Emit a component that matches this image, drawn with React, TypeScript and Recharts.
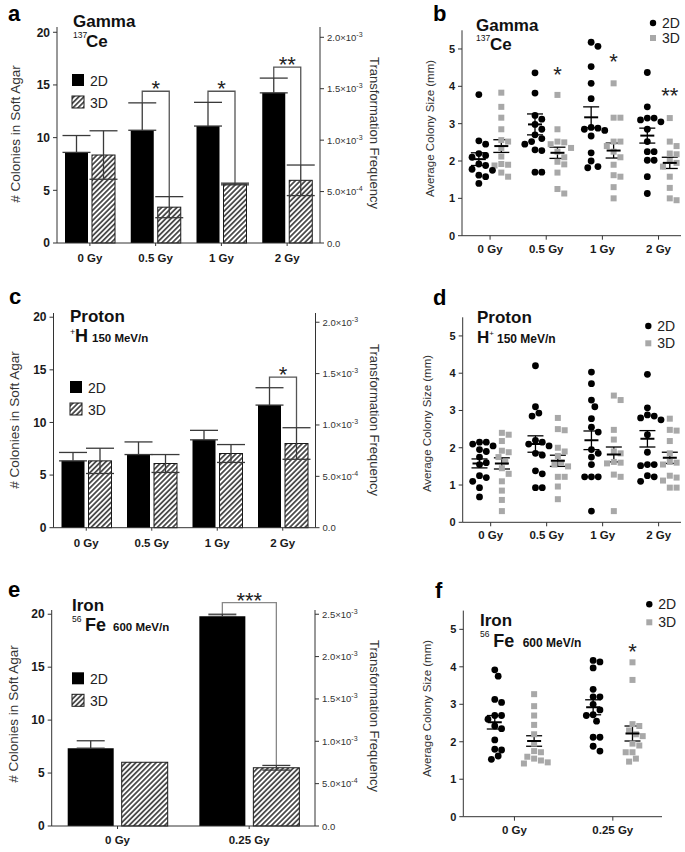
import React from 'react';
import { BarChart, Bar, XAxis, YAxis, ErrorBar, ScatterChart, Scatter } from 'recharts';

const FONT = '"Liberation Sans", Arial, Helvetica, sans-serif';

// a: gamma, colonies in soft agar
const gammaDoses = ['0 Gy', '0.5 Gy', '1 Gy', '2 Gy'];
const gamma2D = [8.6, 10.7, 11.1, 14.25];
const gamma2DErr = [1.6, 2.6, 2.25, 1.4];
const gamma3D = [8.35, 3.4, 5.6, 5.95];
const gamma3DErr = [2.3, 1.0, 0.08, 1.45];
const gammaBracket = [null, 14.4, 14.4, 16.7];
const gammaSig = ['', '*', '*', '**'];

// c: proton
const protonDoses = ['0 Gy', '0.5 Gy', '1 Gy', '2 Gy'];
const proton2D = [6.35, 6.95, 8.35, 11.65];
const proton2DErr = [0.8, 1.2, 0.9, 1.65];
const proton3D = [6.35, 6.1, 7.05, 8.0];
const proton3DErr = [1.2, 0.85, 0.85, 1.5];
const protonBracket = [null, null, null, 14.3];
const protonSig = ['', '', '', '*'];

// e: iron
const ironDoses = ['0 Gy', '0.25 Gy'];
const iron2D = [7.35, 19.8];
const iron2DErr = [0.7, 0.2];
const iron3D = [6.02, 5.5];
const iron3DErr = [0, 0.22];
const ironBracket = [null, 21.1];
const ironSig = ['', '***'];

const colonyTicks = [0, 5, 10, 15, 20];
const freqTicks = [0, 0.0005, 0.001, 0.0015, 0.002];
const freqTicksIron = [0, 0.0005, 0.001, 0.0015, 0.002, 0.0025];
const sizeTicks = [0, 1, 2, 3, 4, 5];

// b: gamma colony size
const gammaSize2D = [
  [3.78, 2.54, 2.45, 2.2, 2.15, 2.1, 1.92, 1.88, 1.78, 1.75, 1.62, 1.58, 1.4],
  [4.36, 3.82, 3.22, 3.12, 2.98, 2.85, 2.7, 2.6, 2.52, 2.45, 2.3, 2.28, 1.7, 1.7],
  [5.18, 5.07, 4.53, 4.08, 3.67, 2.9, 2.88, 2.85, 2.82, 2.67, 2.22, 2.0, 1.85, 1.82],
  [4.37, 3.45, 3.15, 3.15, 3.1, 3.05, 2.85, 2.52, 2.25, 2.25, 2.02, 2.02, 1.58, 1.13],
];
const gammaSize3D = [
  [3.83, 3.45, 3.16, 2.85, 2.56, 2.52, 2.35, 2.12, 1.92, 1.9, 1.88, 1.69, 1.58],
  [3.77, 2.85, 2.52, 2.5, 2.45, 2.35, 2.25, 2.1, 1.98, 1.91, 1.69, 1.25, 1.13],
  [4.08, 3.16, 3.16, 2.52, 2.52, 2.4, 2.25, 2.1, 1.9, 1.62, 1.58, 1.3, 1.0],
  [3.15, 2.52, 2.4, 2.2, 2.18, 2.0, 1.95, 1.85, 1.58, 1.28, 0.95, 1.0],
];
const gammaMean2D = [2.05, 2.98, 3.17, 2.68];
const gammaSem2D = [0.17, 0.28, 0.28, 0.2];
const gammaMean3D = [2.4, 2.22, 2.28, 1.95];
const gammaSem3D = [0.17, 0.15, 0.2, 0.15];
const gammaSizeSig = ['', '*', '*', '**'];
const gammaSizeSigAt = [null, 4.45, 4.78, 3.88];

// d: proton colony size
const protonSize2D = [
  [2.15, 2.15, 2.1, 2.05, 1.95, 1.9, 1.75, 1.6, 1.55, 1.25, 1.2, 1.1, 0.93, 0.68],
  [4.2, 3.1, 2.93, 2.85, 2.2, 2.15, 2.1, 2.05, 1.85, 1.8, 1.38, 1.3, 0.93, 0.93],
  [4.03, 3.72, 3.28, 3.1, 2.78, 2.55, 2.42, 1.95, 1.85, 1.75, 1.55, 1.22, 1.22, 1.22, 0.3],
  [3.97, 3.07, 2.88, 2.85, 2.8, 2.75, 2.35, 1.88, 1.55, 1.55, 1.52, 1.25, 1.22, 1.1],
];
const protonSize3D = [
  [2.4, 2.35, 2.18, 1.92, 1.88, 1.75, 1.62, 1.45, 1.3, 1.1, 0.85, 0.6, 0.3],
  [2.8, 2.5, 2.47, 2.0, 1.9, 1.78, 1.6, 1.55, 1.5, 1.22, 1.22, 0.96, 0.62],
  [3.4, 3.28, 2.48, 2.22, 1.9, 1.85, 1.62, 1.6, 1.58, 1.28, 1.22, 0.3],
  [2.78, 2.48, 2.46, 2.18, 1.85, 1.62, 1.6, 1.55, 1.25, 1.2, 1.12, 0.93, 0.93],
];
const protonMean2D = [1.58, 2.1, 2.2, 2.24];
const protonSem2D = [0.12, 0.22, 0.25, 0.22];
const protonMean3D = [1.58, 1.65, 1.82, 1.73];
const protonSem3D = [0.15, 0.15, 0.2, 0.15];
const protonSizeSig = ['', '', '', ''];
const protonSizeSigAt = [null, null, null, null];

// f: iron colony size
const ironSize2D = [
  [3.92, 3.75, 3.13, 3.05, 2.7, 2.7, 2.6, 2.42, 2.35, 2.05, 1.8, 1.78, 1.62, 1.53],
  [4.17, 4.13, 3.97, 3.4, 3.2, 3.2, 3.0, 2.85, 2.72, 2.7, 2.55, 2.12, 2.12, 1.88, 1.75],
];
const ironSize3D = [
  [3.27, 2.95, 2.7, 2.45, 2.2, 1.95, 1.75, 1.72, 1.6, 1.55, 1.5, 1.45, 1.42],
  [4.12, 3.65, 2.47, 2.42, 2.3, 2.2, 2.15, 1.95, 1.9, 1.72, 1.72, 1.55, 1.47],
];
const ironMean2D = [2.52, 2.92];
const ironSem2D = [0.18, 0.2];
const ironMean3D = [2.02, 2.22];
const ironSem3D = [0.14, 0.2];
const ironSizeSig = ['', '*'];
const ironSizeSigAt = [null, 4.54];

const axisLine = { stroke: '#333', strokeWidth: 1 };
const boldTick = { fontSize: 11.5, fontWeight: 'bold' as const, fill: '#1a1a1a' };

type Box = { l: number; r: number; t: number; b: number };

function freqParts(v: number): [string, string | null] {
  if (v === 0) return ['0.0', null];
  const e = Math.floor(Math.log10(v) + 1e-9);
  return [`${(v / 10 ** e).toFixed(1)}×10`, `${e}`];
}

const FreqTick = (props: any) => {
  const { x, y, payload } = props;
  const [m, e] = freqParts(payload.value);
  return (
    <text x={x} y={y} dy={3.5} fontSize={9.5} fill="#333" textAnchor="start">
      {m}
      {e && <tspan dy={-4} fontSize={7}>{e}</tspan>}
    </text>
  );
};

// hatched 3D bar; also draws the significance bracket, scaled off the bar itself
const HatchBar = (props: any) => {
  const { x, y, width, height, payload, patternId, gap, bracketColor } = props;
  const k = payload.v3 ? height / payload.v3 : 0;
  const base = y + height;
  const toY = (v: number) => base - v * k;
  const lx = x - gap - width / 2;
  const rx = x + width / 2;
  return (
    <g>
      <rect x={x} y={y} width={width} height={height} fill={`url(#${patternId})`} stroke="#1a1a1a" strokeWidth={1} />
      {payload.bracket != null && (
        <g>
          <path
            d={`M${lx},${toY(payload.v2 + payload.e2)}V${toY(payload.bracket)}H${rx}V${toY(payload.v3 + payload.e3)}`}
            fill="none"
            stroke={bracketColor}
            strokeWidth={1.3}
          />
          <text x={(lx + rx) / 2} y={toY(payload.bracket) + 5} textAnchor="middle" fontSize={22} fill="#222">
            {payload.sig}
          </text>
        </g>
      )}
    </g>
  );
};

type BarPanelProps = {
  id: string;
  top: number;
  height: number;
  plot: Box;
  doses: string[];
  v2: number[];
  e2: number[];
  v3: number[];
  e3: number[];
  bracket: (number | null)[];
  sig: string[];
  bracketColor: string;
  yMax: number;
  freqMax: number;
  fTicks: number[];
  barSize: number;
  barGap: number;
  labelGap: number;
};

function BarPanel(p: BarPanelProps) {
  const W = 400;
  const data = p.doses.map((dose, i) => ({
    dose,
    v2: p.v2[i],
    e2: p.e2[i],
    e2Up: [0, p.e2[i]], // 2D bars only show the upper whisker
    v3: p.v3[i],
    e3: p.e3[i],
    bracket: p.bracket[i],
    sig: p.sig[i],
  }));
  const margin = {
    top: p.plot.t - p.top,
    left: p.plot.l - 40,
    right: W - p.plot.r - 60,
    bottom: p.top + p.height - p.plot.b - 24,
  };
  return (
    <div style={{ position: 'absolute', left: 0, top: p.top }}>
      <BarChart width={W} height={p.height} data={data} margin={margin} barSize={p.barSize} barGap={p.barGap}>
        <defs>
          <pattern id={p.id} width={3.6} height={3.6} patternUnits="userSpaceOnUse" patternTransform="rotate(45)">
            <rect width={3.6} height={3.6} fill="#fff" />
            <line x1={1.8} y1={0} x2={1.8} y2={3.6} stroke="#1a1a1a" strokeWidth={1.4} />
          </pattern>
        </defs>
        <XAxis dataKey="dose" height={24} interval={0} tickSize={3} tickMargin={p.labelGap} axisLine={axisLine} tickLine={axisLine} tick={boldTick} />
        <YAxis yAxisId="left" width={40} domain={[0, p.yMax]} ticks={colonyTicks} interval={0} tickSize={4} tickMargin={3}
          axisLine={axisLine} tickLine={axisLine} tick={{ ...boldTick, fontSize: 12 }} />
        <YAxis yAxisId="right" orientation="right" width={60} domain={[0, p.freqMax]} ticks={p.fTicks} interval={0}
          allowDataOverflow tickSize={4} tickMargin={3} axisLine={axisLine} tickLine={axisLine} tick={FreqTick} />
        <Bar yAxisId="left" dataKey="v2" name="2D" fill="#000" isAnimationActive={false}>
          <ErrorBar dataKey="e2Up" width={14} stroke="#3a3a3a" strokeWidth={1.3} />
        </Bar>
        <Bar yAxisId="left" dataKey="v3" name="3D" isAnimationActive={false}
          shape={(props: any) => <HatchBar {...props} patternId={p.id} gap={p.barGap} bracketColor={p.bracketColor} />}>
          <ErrorBar dataKey="e3" width={14} stroke="#3a3a3a" strokeWidth={1.3} />
        </Bar>
      </BarChart>
    </div>
  );
}

// deterministic beeswarm offsets (px) so equal values sit side by side
function swarm(vals: number[], pxPerUnit: number, d = 6.8): number[] {
  const order = vals.map((_, i) => i).sort((a, b) => vals[b] - vals[a]);
  const cands = [0];
  for (let s = 1; s <= 10; s++) cands.push((s * d) / 2, (-s * d) / 2);
  const placed: [number, number][] = [];
  const out = vals.map(() => 0);
  for (const i of order) {
    const py = vals[i] * pxPerUnit;
    const dx = cands.find((c) => placed.every(([qx, qy]) => Math.hypot(qx - c, qy - py) >= d)) ?? 0;
    placed.push([dx, py]);
    out[i] = dx;
  }
  return out;
}

const DotShape = (p: any) => <circle cx={p.cx} cy={p.cy} r={3.4} fill="#000" />;
const SquareShape = (p: any) => <rect x={p.cx - 3} y={p.cy - 3} width={6} height={6} fill="#a8a8a8" />;
const MeanShape = (p: any) => <line x1={p.cx - 7} x2={p.cx + 7} y1={p.cy} y2={p.cy} stroke="#000" strokeWidth={2} />;
const StarShape = (p: any) => (
  <text x={p.cx} y={p.cy + 12} textAnchor="middle" fontSize={22} fill="#222">{p.payload.label}</text>
);

type ScatterPanelProps = {
  left: number;
  top: number;
  width: number;
  height: number;
  plot: Box;
  doses: string[];
  xMin: number;
  xMax: number;
  s2: number[][];
  s3: number[][];
  m2: number[];
  sem2: number[];
  m3: number[];
  sem3: number[];
  sig: string[];
  sigAt: (number | null)[];
};

function ScatterPanel(p: ScatterPanelProps) {
  const pxPerUnit = (p.plot.b - p.plot.t) / 5.5;
  const pxPerCat = (p.plot.r - p.plot.l) / (p.xMax - p.xMin);
  const spread = (groups: number[][], side: number) =>
    groups.flatMap((vals, i) => {
      const offs = swarm(vals, pxPerUnit);
      return vals.map((v, j) => ({ x: i + side + offs[j] / pxPerCat, y: v }));
    });
  const pts2 = spread(p.s2, -0.2);
  const pts3 = spread(p.s3, 0.2);
  const means = [
    ...p.m2.map((m, i) => ({ x: i - 0.2, y: m, sem: p.sem2[i] })),
    ...p.m3.map((m, i) => ({ x: i + 0.2, y: m, sem: p.sem3[i] })),
  ];
  const stars = p.sig
    .map((label, i) => ({ x: i + 0.2, y: p.sigAt[i], label }))
    .filter((s) => s.y != null && s.label);
  const margin = {
    top: p.plot.t - p.top,
    left: p.plot.l - p.left - 35,
    right: p.left + p.width - p.plot.r,
    bottom: p.top + p.height - p.plot.b - 22,
  };
  return (
    <div style={{ position: 'absolute', left: p.left, top: p.top }}>
      <ScatterChart width={p.width} height={p.height} margin={margin}>
        <XAxis type="number" dataKey="x" domain={[p.xMin, p.xMax]} allowDataOverflow ticks={p.doses.map((_, i) => i)}
          interval={0} tickFormatter={(v: number) => p.doses[Math.round(v)] ?? ''} height={22} tickSize={4} tickMargin={5}
          axisLine={axisLine} tickLine={axisLine} tick={boldTick} />
        <YAxis type="number" dataKey="y" width={35} domain={[0, 5.5]} ticks={sizeTicks} interval={0} tickSize={4}
          tickMargin={3} axisLine={axisLine} tickLine={axisLine} tick={{ ...boldTick, fontSize: 11 }} />
        <Scatter data={pts3} shape={SquareShape} isAnimationActive={false} />
        <Scatter data={pts2} shape={DotShape} isAnimationActive={false} />
        <Scatter data={means} shape={MeanShape} isAnimationActive={false}>
          <ErrorBar dataKey="sem" direction="y" width={8} stroke="#000" strokeWidth={1.3} />
        </Scatter>
        <Scatter data={stars} shape={StarShape} isAnimationActive={false} />
      </ScatterChart>
    </div>
  );
}

const BarLegend = ({ x, y }: { x: number; y: number }) => (
  <g>
    <rect x={x} y={y} width={12} height={12} fill="#000" />
    <text x={x + 18} y={y + 12} fontSize={14} fill="#222">2D</text>
    <rect x={x} y={y + 22} width={12} height={12} fill="url(#legHatch)" stroke="#1a1a1a" strokeWidth={1} />
    <text x={x + 18} y={y + 34} fontSize={14} fill="#222">3D</text>
  </g>
);

const DotLegend = ({ x, y, gap }: { x: number; y: number; gap: number }) => (
  <g>
    <circle cx={x} cy={y} r={3.2} fill="#000" />
    <text x={x + 9} y={y + 5} fontSize={14} fill="#222">2D</text>
    <rect x={x - 3} y={y + gap - 3} width={6} height={6} fill="#a8a8a8" />
    <text x={x + 9} y={y + gap + 5} fontSize={14} fill="#222">3D</text>
  </g>
);

const Letter = ({ x, y, c }: { x: number; y: number; c: string }) => (
  <text x={x} y={y} fontSize={22} fontWeight="bold" fill="#000">{c}</text>
);

const Title = ({ x, y, t }: { x: number; y: number; t: string }) => (
  <text x={x} y={y} fontSize={17} fontWeight="bold" fill="#111">{t}</text>
);

const VLabel = ({ x, y, t, size, rot }: { x: number; y: number; t: string; size: number; rot: number }) => (
  <text transform={`translate(${x},${y}) rotate(${rot})`} textAnchor="middle" dy="0.35em" fontSize={size} fill="#333">{t}</text>
);

export default function App() {
  return (
    <div style={{ position: 'absolute', left: 0, top: 0, width: 685, height: 852, background: '#fff', fontFamily: FONT }}>
      <BarPanel id="hatchA" top={0} height={290} plot={{ l: 57, r: 320, t: 27, b: 243 }} doses={gammaDoses}
        v2={gamma2D} e2={gamma2DErr} v3={gamma3D} e3={gamma3DErr} bracket={gammaBracket} sig={gammaSig}
        bracketColor="#555" yMax={20.5} freqMax={0.0021} fTicks={freqTicks} barSize={23} barGap={4} labelGap={8} />
      <BarPanel id="hatchC" top={280} height={285} plot={{ l: 53.5, r: 315.5, t: 313, b: 527.7 }} doses={protonDoses}
        v2={proton2D} e2={proton2DErr} v3={proton3D} e3={proton3DErr} bracket={protonBracket} sig={protonSig}
        bracketColor="#555" yMax={20.4} freqMax={0.00209} fTicks={freqTicks} barSize={23} barGap={4} labelGap={8} />
      <BarPanel id="hatchE" top={565} height={287} plot={{ l: 51.7, r: 315, t: 610, b: 826 }} doses={ironDoses}
        v2={iron2D} e2={iron2DErr} v3={iron3D} e3={iron3DErr} bracket={ironBracket} sig={ironSig}
        bracketColor="#888" yMax={20.4} freqMax={0.00255} fTicks={freqTicksIron} barSize={46} barGap={8} labelGap={7} />

      <ScatterPanel left={400} top={0} width={285} height={280} plot={{ l: 462, r: 681, t: 30.3, b: 235.7 }}
        doses={gammaDoses} xMin={-0.5} xMax={3.4} s2={gammaSize2D} s3={gammaSize3D} m2={gammaMean2D} sem2={gammaSem2D}
        m3={gammaMean3D} sem3={gammaSem3D} sig={gammaSizeSig} sigAt={gammaSizeSigAt} />
      <ScatterPanel left={400} top={280} width={285} height={285} plot={{ l: 462.7, r: 681, t: 317.3, b: 522.3 }}
        doses={protonDoses} xMin={-0.5} xMax={3.4} s2={protonSize2D} s3={protonSize3D} m2={protonMean2D} sem2={protonSem2D}
        m3={protonMean3D} sem3={protonSem3D} sig={protonSizeSig} sigAt={protonSizeSigAt} />
      <ScatterPanel left={400} top={565} width={285} height={287} plot={{ l: 463.3, r: 662, t: 610.6, b: 816.7 }}
        doses={ironDoses} xMin={-0.52} xMax={1.5} s2={ironSize2D} s3={ironSize3D} m2={ironMean2D} sem2={ironSem2D}
        m3={ironMean3D} sem3={ironSem3D} sig={ironSizeSig} sigAt={ironSizeSigAt} />

      <svg width={685} height={852} style={{ position: 'absolute', left: 0, top: 0, pointerEvents: 'none' }}>
        <defs>
          <pattern id="legHatch" width={3.6} height={3.6} patternUnits="userSpaceOnUse" patternTransform="rotate(45)">
            <rect width={3.6} height={3.6} fill="#fff" />
            <line x1={1.8} y1={0} x2={1.8} y2={3.6} stroke="#1a1a1a" strokeWidth={1.4} />
          </pattern>
        </defs>

        {/* a */}
        <Letter x={8} y={21} c="a" />
        <Title x={73} y={27} t="Gamma" />
        <text x={73} y={38} fontSize={8.5} fill="#111">137</text>
        <text x={86} y={47} fontSize={17} fontWeight="bold" fill="#111">Ce</text>
        <BarLegend x={72} y={74} />
        <VLabel x={15} y={134} t="# Colonies in Soft Agar" size={13.5} rot={-90} />
        <VLabel x={375} y={133} t="Transformation Frequency" size={13} rot={90} />

        {/* b */}
        <Letter x={433} y={21} c="b" />
        <Title x={476} y={30.5} t="Gamma" />
        <text x={476} y={41} fontSize={8.5} fill="#111">137</text>
        <text x={490} y={50} fontSize={17} fontWeight="bold" fill="#111">Ce</text>
        <DotLegend x={653} y={23} gap={15} />
        <VLabel x={430} y={128.5} t="Average Colony Size (mm)" size={11.5} rot={-90} />

        {/* c */}
        <Letter x={9} y={304} c="c" />
        <Title x={70} y={322.3} t="Proton" />
        <text x={70} y={335} fontSize={9} fill="#111">+</text>
        <text x={75} y={342.3} fontSize={18} fontWeight="bold" fill="#111">H</text>
        <text x={92} y={342.3} fontSize={11.5} fontWeight="bold" fill="#111">150 MeV/n</text>
        <BarLegend x={70} y={381} />
        <VLabel x={14} y={420} t="# Colonies in Soft Agar" size={13.5} rot={-90} />
        <VLabel x={375} y={420} t="Transformation Frequency" size={13} rot={90} />

        {/* d */}
        <Letter x={433} y={305} c="d" />
        <Title x={477} y={322.7} t="Proton" />
        <text x={477} y={343} fill="#111">
          <tspan fontSize={17} fontWeight="bold">H</tspan>
          <tspan fontSize={8} dy={-7}>+</tspan>
          <tspan fontSize={12} fontWeight="bold" dy={7} dx={3}>150 MeV/n</tspan>
        </text>
        <DotLegend x={648.3} y={326} gap={17.3} />
        <VLabel x={427} y={423.5} t="Average Colony Size (mm)" size={11.5} rot={-90} />

        {/* e */}
        <Letter x={8} y={597} c="e" />
        <Title x={72} y={610.7} t="Iron" />
        <text x={72} y={622} fontSize={8.5} fill="#111">56</text>
        <text x={85} y={630.7} fontSize={18} fontWeight="bold" fill="#111">Fe</text>
        <text x={113} y={630.7} fontSize={11.5} fontWeight="bold" fill="#111">600 MeV/n</text>
        <BarLegend x={72} y={672.3} />
        <VLabel x={13.5} y={714} t="# Colonies in Soft Agar" size={13.5} rot={-90} />
        <VLabel x={375} y={716} t="Transformation Frequency" size={13} rot={90} />

        {/* f */}
        <Letter x={435} y={598} c="f" />
        <Title x={480} y={625.7} t="Iron" />
        <text x={480} y={637} fontSize={8.5} fill="#111">56</text>
        <text x={493.3} y={646.7} fontSize={18} fontWeight="bold" fill="#111">Fe</text>
        <text x={522.7} y={646.7} fontSize={12} fontWeight="bold" fill="#111">600 MeV/n</text>
        <DotLegend x={649.3} y={604.3} gap={18} />
        <VLabel x={427} y={708.5} t="Average Colony Size (mm)" size={11.5} rot={-90} />
      </svg>
    </div>
  );
}
